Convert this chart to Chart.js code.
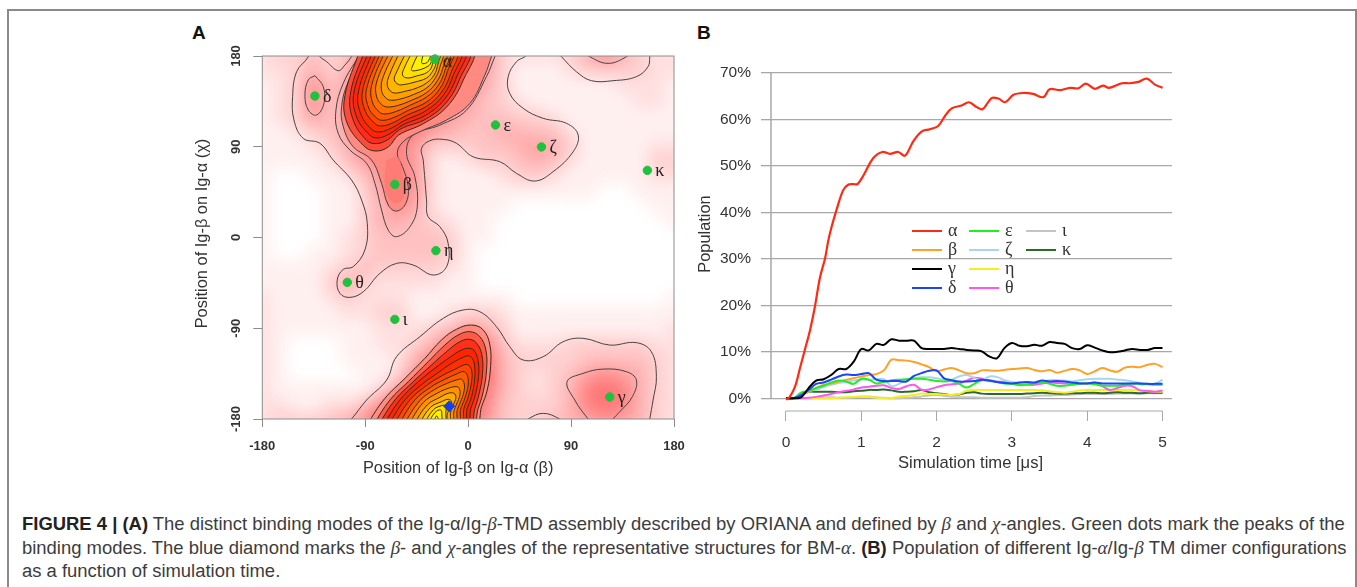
<!DOCTYPE html>
<html><head><meta charset="utf-8">
<script src="https://cdn.jsdelivr.net/npm/chart.js@4"></script>
<style>
html,body{margin:0;padding:0;background:#fff;width:1357px;height:587px;overflow:hidden;font-family:"Liberation Sans",Arial,sans-serif}
#frame{position:absolute;left:7px;top:9px;width:1346px;height:578px;border:2px solid #8a8a8a;border-bottom:none;box-sizing:content-box}
canvas{position:absolute;display:block;filter:blur(.35px)}
#chartA{left:180px;top:40px}
#chartB{left:690px;top:40px}
.panel{position:absolute;font-weight:bold;font-size:19px;color:#111;line-height:20px}
.cap{position:absolute;left:22px;white-space:nowrap;font-size:18.45px;line-height:20px;color:#3c3c3c}
.cap b{color:#222}
.cap i{font-family:"Liberation Serif",serif;font-size:19px}
</style></head><body>
<div id="frame"></div>
<div class="panel" style="left:192px;top:23px">A</div>
<div class="panel" style="left:697px;top:23px">B</div>
<canvas id="chartA" width="510" height="440"></canvas>
<canvas id="chartB" width="500" height="440"></canvas>
<div class="cap" style="top:514px"><b>FIGURE 4 | (A)</b> The distinct binding modes of the Ig-α/Ig-<i>β</i>-TMD assembly described by ORIANA and defined by <i>β</i> and <i>χ</i>-angles. Green dots mark the peaks of the</div>
<div class="cap" style="top:538px">binding modes. The blue diamond marks the <i>β</i>- and <i>χ</i>-angles of the representative structures for BM-<i>α</i>. <b>(B)</b> Population of different Ig-<i>α</i>/Ig-<i>β</i> TM dimer configurations</div>
<div class="cap" style="top:561px">as a function of simulation time.</div>
<script>
/* ---------- Panel A data: angles in degrees ---------- */
const angleTicks = [-180,-90,0,90,180];
const modeNames = ['α','β','γ','δ','ε','ζ','η','θ','ι','κ'];
const modeBeta  = [-29.1,-64.1,123.8,-134,23.9,64.1,-28.2,-105.7,-64.1,156.7];
const modeChi   = [177,52.7,-158.2,140.3,111.6,89.8,-13,-44.5,-81.2,66.6];
const diamondBeta = [-16.6];
const diamondChi  = [-167.4];

/* density: rows chi = 180..-180, columns beta = -180..180, 15 degree steps */
const densityRows = [
[2,3,3,4,3,4,8,10,10,10,10,10,10,7,3,2,2,2,3,5,7,5,3,2,2],
[2,2,3,5,3,5,9,10,10,10,10,10,10,6,3,1,1,1,2,3,3,3,3,2,2],
[1,2,3,7,4,6,10,10,10,10,10,10,8,5,3,1,1,1,1,1,1,2,2,2,1],
[1,2,3,7,4,6,10,10,10,10,10,9,6,4,3,2,1,1,1,1,1,1,2,2,1],
[1,2,3,6,4,6,10,10,10,10,8,6,5,4,4,3,3,2,1,1,1,1,1,1,1],
[1,1,2,3,4,6,10,10,10,8,6,5,4,4,5,5,4,4,2,1,1,1,1,1,1],
[1,1,1,2,3,5,8,9,8,6,3,3,3,4,4,5,6,5,3,1,1,1,1,2,2],
[1,1,1,1,2,4,6,8,8,6,2,1,2,3,3,4,5,4,2,1,1,1,1,3,3],
[1,0,0,1,1,2,4,7,9,6,2,1,1,1,2,3,3,2,1,1,1,1,1,2,2],
[1,0,0,0,1,1,3,6,8,6,2,1,1,1,1,1,1,1,1,1,0,0,1,1,1],
[1,0,0,0,1,1,3,5,7,5,2,1,1,1,1,0,0,0,0,0,0,0,0,1,1],
[1,0,0,0,1,1,3,5,5,4,3,2,1,1,0,0,0,0,0,0,0,0,0,0,1],
[1,0,0,0,1,2,3,4,4,4,4,3,1,1,0,0,0,0,0,0,0,0,0,0,0],
[1,0,0,1,1,2,3,4,4,4,4,3,1,0,0,0,0,0,0,0,0,0,0,0,0],
[1,1,1,1,2,3,4,3,3,3,3,2,1,0,0,0,0,0,0,0,0,0,0,0,0],
[1,1,1,1,3,5,3,2,2,2,2,1,1,0,0,0,0,0,0,0,0,0,0,0,0],
[2,1,1,1,2,3,2,2,2,1,1,1,1,1,1,0,0,0,0,0,0,0,0,0,1],
[2,1,1,1,1,2,2,3,3,1,1,2,3,3,2,1,1,1,1,1,1,1,1,1,1],
[2,1,1,1,1,1,1,2,2,2,3,4,6,5,3,1,1,1,1,1,1,1,1,1,2],
[2,1,0,0,0,1,1,2,2,3,5,8,10,8,4,2,2,2,3,3,3,3,3,2,2],
[2,1,0,0,0,1,1,1,2,5,8,10,10,9,5,3,3,3,3,4,4,4,4,3,2],
[2,1,0,0,0,0,1,1,3,7,10,10,10,10,5,3,2,3,4,6,7,6,5,3,2],
[2,1,1,1,1,1,1,3,6,10,10,10,10,9,5,3,2,3,5,8,9,8,5,3,2],
[2,2,1,1,2,2,4,7,10,10,10,10,10,8,4,3,3,3,5,8,9,8,5,3,2],
[2,3,3,3,4,5,7,10,10,10,10,10,10,7,4,3,3,4,5,6,7,6,5,3,2]
];

/* contour lines as [beta, chi] pairs */
const contourMainOuter = [[-139.8,186],[-139.8,179.3],[-150,164.4],[-153.5,139.6],[-152.3,116.5],[-144.2,98.3],[-129.6,93.4],[-118,76.8],[-102,57],[-93.2,37.2],[-88.2,14],[-90.3,-12.4],[-100.5,-29],[-109.2,-31.6],[-114.5,-42.2],[-112.1,-55.4],[-103.4,-59.4],[-91.7,-53.8],[-77.2,-35.6],[-62.6,-25.7],[-48.1,-27.3],[-30.6,-37.2],[-18.9,-29],[-17.5,-5.8],[-24.7,10.7],[-35,20.6],[-36.4,37.2],[-39.3,76.8],[-40.8,88.4],[-33.5,96],[-21.8,97.3],[-10.2,93.4],[4.4,80],[27.7,75.2],[42.3,63.6],[58.3,56],[74.3,65.3],[91.8,85.1],[96.2,101.6],[86,113.2],[65.6,118.2],[48.1,128.1],[36.4,142.9],[35,159.5],[42.3,174.4],[49.6,179.3],[56,186]];
const contourHump = [[-134,186],[-129.6,179.3],[-123.8,174.4],[-113.6,165.4],[-107.8,171],[-102,179.3],[-99,186]];
const contourTopRight = [[76,186],[81.6,179.3],[94.7,164.4],[107.8,155.5],[126.7,155.5],[147.1,159.5],[157.3,169.4],[158.8,179.3],[159,186]];
const contourTopArc = [[100,186],[106.4,179.3],[122.4,172.7],[138.4,179.3],[144,186]];
const contourDelta = [[-134,160.5],[-126.7,149.6],[-126.1,133],[-132.5,121.5],[-139.8,126.4],[-142.7,141.3],[-139.8,156.2],[-134,160.5]];
const contourMain2 = [[-93,186],[-96.1,179.3],[-109.2,152.9],[-115.6,126.4],[-113.6,103.3],[-103.4,86.8],[-88.8,73.5],[-81.5,53.7],[-75.7,27.3],[-69.9,7.4],[-62.6,0.8],[-50.9,10.7],[-44.5,30.5],[-46.6,60.3],[-53.9,83.4],[-48.1,101.6],[-24.7,111.5],[-1.4,126.4],[16,159.5],[23.3,179.3],[26,186]];
const contourMain3 = [[-89,186],[-92.3,179.3],[-104.8,154.5],[-110.7,129.7],[-109.2,109.9],[-100.5,90],[-84.5,76.8],[-75.7,53.7],[-69.9,32.2],[-62.6,26.2],[-54.5,33.8],[-52.4,50.4],[-57.4,70.2],[-62,83.4],[-56.8,95],[-42.2,104.9],[-18.9,116.5],[1.5,133],[14.6,161.1],[20.4,179.3],[23,186],[-89,186]];
const betaCore = [[-72,76],[-73,52],[-69,38],[-62,34],[-56,42],[-57,60],[-62,80],[-72,76]];
const contourLowOuter = [[-108,-186],[-102,-180],[-88.8,-161.2],[-71.3,-141.4],[-62.6,-118.2],[-42.2,-98.4],[-21.8,-80.2],[-4.4,-71.9],[10.2,-73.6],[24.8,-88.5],[36.4,-108.3],[48.1,-121.5],[65.6,-118.2],[83,-103.4],[100.5,-100],[123.8,-106.7],[147.1,-104.3],[160.2,-113.3],[164.6,-138],[161.7,-161.2],[158.8,-180],[158,-186]];
const contourLowArc = [[47,-186],[52.5,-180],[65.6,-174.4],[80.1,-180],[86,-186]];
const contourGamma = [[110,-186],[104.9,-180],[93.2,-161.2],[86.5,-143],[100.5,-134.8],[118,-130.5],[138.4,-133.1],[147.1,-141.4],[143.6,-157.9],[132.6,-172.8],[126.7,-180],[124,-186]];

const topRings = [
[[-94.6,186],[-107.7,141],[-106.2,114.6],[-91.7,91.4],[-81.5,85.8],[-69.8,89.8],[-61,101.4],[-39.2,112.9],[-18.8,129.4],[-4.3,156],[3,186]],
[[-90.2,186],[-102.7,144.3],[-101,117.9],[-88.8,96.4],[-80,93.1],[-69.8,97.4],[-59.6,107.3],[-36.3,117.9],[-18.8,134.4],[-7.2,157.6],[0.1,186]],
[[-86.4,186],[-99.8,144.3],[-97.5,119.5],[-85.8,101.4],[-78.6,98.7],[-68.4,103],[-56.7,111.9],[-36.3,121.8],[-20.3,137.7],[-10.1,159.2],[-3.7,186]],
[[-82.9,186],[-96,144.3],[-94,122.8],[-84.4,107.3],[-77.1,104.7],[-67,108.6],[-55.3,116.2],[-36.3,126.1],[-21.8,141],[-13,160.9],[-7.2,186]],
[[-79.1,186],[-92.3,146],[-90.2,126.1],[-81.5,112.9],[-75.6,110.6],[-65.5,113.9],[-53.8,121.2],[-36.3,130.1],[-23.2,144.3],[-15.3,162.5],[-10.7,186]],
[[-75.6,186],[-88.8,147.6],[-87.3,129.4],[-80,118.5],[-74.2,116.2],[-64,119.5],[-52.3,126.1],[-36.3,134.4],[-24.7,147.6],[-18.3,164.2],[-13.9,186]],
[[-72.2,186],[-84.4,150.9],[-83.8,134.4],[-77.7,124.5],[-72.7,122.5],[-62.5,125.2],[-50.9,131.1],[-36.3,139.4],[-26.1,150.9],[-20.3,165.8],[-16.8,186]],
[[-67.8,186],[-80,154.2],[-80,139.4],[-74.8,131.1],[-69.8,129.4],[-61.1,131.1],[-49.4,136.1],[-36.3,143.7],[-27.6,154.2],[-22.3,167.5],[-19.7,186]],
[[-63.4,186],[-74.8,157.6],[-75.6,145],[-71.3,137.7],[-66.9,136.1],[-58.2,137.7],[-48,141.7],[-36.3,148.3],[-29,157.6],[-24.7,169.1],[-22.6,186]],
[[-59,186],[-68.9,160.9],[-70.7,150.9],[-66.9,144.3],[-62.5,143.3],[-55.3,145],[-46.5,147.6],[-36.3,153.3],[-29.9,160.9],[-26.7,170.8],[-25.2,186]],
[[-53.2,186],[-62.5,164.2],[-64.6,156.6],[-61.1,151.9],[-56.7,151.6],[-46.5,154.2],[-36.3,158.2],[-31.1,164.8],[-28.2,172.4],[-27.6,186]],
[[-48,186],[-56.1,167.5],[-57.3,160.9],[-53.2,158.2],[-45.1,160.2],[-36.3,163.5],[-32,169.1],[-29.9,186]],
[[-42.1,186],[-48.6,170.1],[-49.4,165.8],[-44.5,165.8],[-36.3,169.1],[-32.5,173.4],[-31.7,186]],
[[-37.8,186],[-40.7,174.7],[-39.8,172.4],[-34.9,174.7],[-32.5,186]]
];
const topRingColors = ['#ff4a3a','#ff2c1c','#ff2408','#ff3000','#ff4400','#ff5a00','#ff7000','#ff8800','#ffa000','#ffb400','#ffcc00','#ffdf00','#fff000','#ffff00'];

const lowRings = [
[[-88.8,-186],[-72.8,-159.5],[-55.3,-139.7],[-37.8,-119.8],[-23.3,-101.6],[-10.2,-91],[3,-86.8],[13.2,-91.7],[19,-106.6],[19.6,-128.1],[16.7,-151.2],[11.7,-167.8],[5.9,-186]],
[[-83,-186],[-68.4,-161.1],[-52.4,-143],[-34.9,-123.1],[-20.3,-106.6],[-8.7,-96.7],[1.5,-93.4],[10.2,-98.3],[15.5,-111.6],[16.1,-131.4],[13.2,-152.9],[8.8,-169.4],[3,-186]],
[[-78.6,-186],[-64,-161.1],[-48,-143],[-32,-126.4],[-18.9,-113.2],[-7.2,-103.3],[1.5,-101],[7.9,-105.6],[12,-116.5],[12.6,-134.7],[9.7,-154.5],[5.9,-169.4],[0.6,-186]],
[[-74.2,-186],[-59.7,-161.1],[-43.6,-143],[-29.1,-129.7],[-16,-118.8],[-5.8,-111.6],[1.5,-109.9],[5.9,-113.2],[8.8,-123.1],[9.1,-138],[6.2,-156.2],[2.4,-169.4],[-2,-186]],
[[-69.9,-186],[-55.3,-161.1],[-39.3,-144.6],[-26.2,-134],[-14.5,-124.8],[-4.3,-118.8],[0.9,-117.5],[4.4,-121.5],[5.9,-129.7],[5.6,-141.3],[3,-157.8],[-0.8,-169.4],[-4.3,-186]],
[[-65.5,-186],[-50.9,-161.1],[-35.8,-146.3],[-23.3,-137.3],[-11.6,-130.7],[-3.7,-126.4],[0,-126.4],[3,-131.4],[3,-143],[0,-158.5],[-3.7,-169.4],[-6.6,-186]],
[[-61.1,-186],[-46.6,-161.1],[-32,-147.9],[-20.3,-140.6],[-10.1,-135.4],[-4.3,-133],[-0.8,-136.4],[0,-146.3],[-2.9,-159.5],[-6.6,-170.4],[-9,-186]],
[[-56.8,-186],[-42.2,-161.8],[-29.1,-150.6],[-18.3,-144.6],[-10.1,-141.3],[-5.8,-140.6],[-3.4,-145.3],[-3.7,-152.9],[-6.6,-162.8],[-9.6,-171.7],[-11.6,-186]],
[[-52.4,-186],[-39.3,-163.8],[-26.2,-153.9],[-17.4,-149.6],[-10.7,-147.9],[-7.8,-149.6],[-7.2,-156.2],[-10.1,-165.1],[-12.5,-172.7],[-14.2,-186]],
[[-48,-186],[-35.8,-166.1],[-24.7,-158.5],[-17.4,-154.5],[-12.5,-154.5],[-10.7,-158.5],[-13,-166.1],[-15.4,-173.7],[-16.5,-186]],
[[-43.6,-186],[-32.9,-168.4],[-23.3,-162.8],[-17.4,-160.5],[-14.5,-162.8],[-16,-169.4],[-18.3,-175],[-19.5,-186]],
[[-39.3,-186],[-30.5,-171],[-23.3,-166.8],[-19.5,-167.1],[-19.5,-172.7],[-21.2,-186]],
[[-35.8,-186],[-29.1,-173.7],[-24.1,-171],[-23,-176],[-23.9,-186]],
[[-30.5,-186],[-27.6,-177],[-25.3,-186]]
];
const lowRingColors = ['#ff8c80','#ff5a48','#ff3018','#ff2400','#ff3000','#ff4600','#ff5c00','#ff7800','#ff9200','#ffac00','#ffc800','#ffe000','#fff000','#ffff00'];

/* ---------- Panel B data: population (%) over simulation time (microseconds) ---------- */
const popTicks = [0,10,20,30,40,50,60,70];
const timeTicks = [0,1,2,3,4,5];
const alphaTime = [0,.05,.12,.186,.25,.32,.385,.45,.52,.56,.606,.67,.76,.83,.89,.95,1.03,1.16,1.28,1.38,1.49,1.58,1.69,1.8,1.91,2.02,2.11,2.2,2.33,2.43,2.53,2.61,2.73,2.82,2.91,3.02,3.15,3.28,3.42,3.5,3.64,3.77,3.88,3.98,4.1,4.21,4.29,4.46,4.56,4.68,4.79,4.9,5];
const alphaPop  = [-.3,.3,2.5,6.5,10.4,14.7,19.8,25.9,30.2,33.8,36.9,40.5,44.8,46,46.1,46.1,48,51.7,53,52.6,53,52.2,55.3,57.4,57.9,58.6,60.7,62.4,63,63.7,62.7,62.2,64.6,64.5,63.7,65.3,65.7,65.5,64.8,66.5,66.3,66.8,66.7,67.7,66.6,67.3,66.8,67.8,67.8,68.1,68.8,67.5,66.8];
const sharedTime = [0,.1,.2,.3,.4,.5,.6,.7,.8,.9,1,1.1,1.2,1.3,1.4,1.5,1.6,1.7,1.8,1.9,2,2.1,2.2,2.3,2.4,2.5,2.6,2.7,2.8,2.9,3,3.1,3.2,3.3,3.4,3.5,3.6,3.7,3.8,3.9,4,4.1,4.2,4.3,4.4,4.5,4.6,4.7,4.8,4.9,5];
const betaPop   = [0,0,.5,1.4,2.2,2.9,3.2,3.6,4,4.3,4.7,5,5.2,6,8.3,8.2,8.1,7.8,7.3,6.7,5.8,6.2,6.5,6,5.4,5.4,6,6,5.9,6.1,6.3,6.4,6.5,6.1,5.8,6.1,5.5,5.9,6.3,6,5.2,5.8,6.5,6,5.7,6.6,6.8,6.7,7.2,7.4,6.7];
const gammaPop  = [0,0,.2,2.2,3.8,4.1,5,6.3,6.3,7.9,10.6,10.3,11.7,11.5,12.7,12.4,12.4,12.4,10.8,10.6,10.6,10.6,10.8,10.6,10.4,10.3,10.1,9,8.6,10.8,11.9,11.3,11.2,11.5,11.3,12.1,11.9,11.7,10.8,10.6,11.4,10.9,10.3,9.9,10,10.3,10.6,10.4,10.4,10.8,10.8];
const deltaPop  = [0,0,.7,1.8,3.1,3.4,4,4.7,5.1,5,5.2,5.4,4,3.7,3.7,3.7,3.6,4.8,5.4,5.9,6,4.3,3.9,3.6,3.6,3.7,4,3.8,3.5,3.3,3.2,3.4,3.5,3.4,3.8,3.6,3.7,3.6,3.4,3.2,3.2,3.4,3.2,3.2,3.2,3.2,3.2,3.2,3.1,3.1,3.1];
const epsilonPop= [0,0,1.2,1.6,2.2,2.7,3.4,3.8,3.6,3.1,4.2,4,3.2,3.5,3.9,4,4.1,4.2,4.2,4,3.7,3.6,3.7,3.1,2.3,3.1,3.9,3.7,3.5,3.2,3.1,2.8,3,3.2,3.4,3.1,2.7,2.7,2.9,3.2,3.2,3,2.7,2.7,2.7,3,3.2,3,3,2.9,2.9];
const zetaPop   = [0,0,.9,1.5,1.9,2.4,2.9,3.3,3.5,3.8,4,4,4.1,4.1,2.6,3.1,4.1,4.3,4.5,4.5,4.3,4,4,4.7,5,4.4,3.9,4.7,4.6,3.9,3.5,3.4,3.4,3.3,3.5,3.9,3.9,3.8,3.6,3.9,4.1,4.2,4.2,4.2,4,3.9,3.6,3.3,3.1,3.1,4];
const etaPop    = [0,0,0,0,0,0,0,.1,.2,.3,.4,.3,.1,0,0,.4,.5,.7,1,.9,.9,.8,.7,.9,1.6,1.8,1.8,1.8,1.8,1.8,1.8,1.8,1.8,1.8,1.7,1.5,1.3,1.2,1.4,1.7,1.8,1.8,1.8,1.8,1.8,1.8,1.8,1.7,1.5,1.4,1.4];
const thetaPop  = [0,0,0,.1,.3,.6,.9,1.3,1.6,1.9,2.3,2.5,2.7,2.8,2.2,2,2.6,2.9,1.8,1.9,2.4,2.8,3,3.2,3.8,4.4,4.2,3.9,3.6,3.5,3.3,3,2.9,2.9,3.2,3.4,3.3,3.2,3.1,3.2,3.2,3.4,2.6,1.8,2.2,2.7,2.6,1.7,1.6,1.4,1.7];
const iotaPop   = [0,0,0,0,.1,.2,.2,.1,.1,.2,.3,.4,.2,.1,0,0,.1,.2,.4,.6,.7,.5,.3,.2,.2,.2,.1,.1,.1,.1,.1,.1,.2,.5,.6,.6,.7,.7,.8,.9,.9,.9,.9,.9,1,1,1,1,1.1,1.1,1.1];
const kappaPop  = [0,0,.9,1.4,1.4,1.4,1.4,1.3,1.3,1.5,1.6,1.8,1.8,1.9,1.7,1.4,1.4,1.5,1.8,1.3,1.1,.9,.7,.8,1.2,1.3,1,.9,.9,.9,.9,.9,1,1.1,1.2,1.1,1,1,1.1,1.1,1.2,1.2,1.1,1.2,1.3,1.2,1.2,1.1,1.2,1.2,1.2];
const seriesNames = ['α','β','γ','δ','ε','ζ','η','θ','ι','κ'];
const seriesColors = ['#ff2a12','#ffa126','#000000','#1a44ff','#22ee22','#a8d6ea','#f4ee20','#ff55f5','#c4c4c4','#2a6a2a'];

/* ---------- helpers ---------- */
const GRID='#a8a8a8', AXIS='#8c8c8c', INK='#333333';
const sansFont=(s,w)=>({family:'"Liberation Sans", Arial, sans-serif',size:s,weight:w||'normal'});
const pairs=a=>a.map(p=>({x:p[0],y:p[1]}));
const zip=(xs,ys)=>xs.map((x,i)=>({x,y:ys[i]}));
function nudgeTitle(scale,dx,dy){
  if(scale._nudged)return; scale._nudged=true;
  const orig=scale.drawTitle;
  scale.drawTitle=function(){const c=this.ctx;c.save();c.translate(dx,dy);orig.call(this);c.restore();};
}
function contourSet(points,extra){
  return Object.assign({data:pairs(points),showLine:true,tension:.4,capBezierPoints:false,borderColor:'#444',borderWidth:1,pointRadius:0,clip:0,fill:false},extra||{});
}
/* keep the plot box exactly where the layout padding puts it */
function noOverhang(s){s.paddingLeft=0;s.paddingRight=0;s.paddingTop=0;s.paddingBottom=0;}

/* ---------- panel A plugin: density map drawn through the scales ---------- */
const densityPlugin={id:'density',beforeDatasetsDraw(chart){
  const {ctx,chartArea:a,scales:{x,y}}=chart;
  const n=densityRows.length,m=densityRows[0].length;
  const off=document.createElement('canvas');off.width=m;off.height=n;
  const o=off.getContext('2d');const img=o.createImageData(m,n);
  densityRows.forEach((r,i)=>r.forEach((v,j)=>{const k=(i*m+j)*4;const g=255-15.5*v;img.data[k]=255;img.data[k+1]=g;img.data[k+2]=g;img.data[k+3]=255;}));
  o.putImageData(img,0,0);
  const xl=x.getPixelForValue(-187.5),xr=x.getPixelForValue(187.5),yt=y.getPixelForValue(187.5),yb=y.getPixelForValue(-187.5);
  ctx.save();ctx.beginPath();ctx.rect(a.left,a.top,a.width,a.height);ctx.clip();
  ctx.imageSmoothingEnabled=true;ctx.imageSmoothingQuality='high';ctx.filter='blur(6px)';
  ctx.drawImage(off,xl,yt,xr-xl,yb-yt);ctx.restore();
},afterDatasetsDraw(chart){
  const {ctx,chartArea:a,scales:{x,y}}=chart;
  ctx.save();ctx.strokeStyle=AXIS;ctx.lineWidth=1;ctx.strokeRect(a.left,a.top,a.width,a.height);
  ctx.fillStyle='#222';ctx.font='18px "Liberation Serif", serif';ctx.textAlign='left';ctx.textBaseline='middle';
  modeNames.forEach((t,i)=>ctx.fillText(t,x.getPixelForValue(modeBeta[i])+8,y.getPixelForValue(modeChi[i])+(i===0?3:1)));
  ctx.restore();
}};

const dsA=[];
dsA.push(contourSet(contourMainOuter),contourSet(contourHump),contourSet(contourTopRight),contourSet(contourTopArc),contourSet(contourDelta),
  contourSet(contourLowOuter),contourSet(contourLowArc),contourSet(contourGamma),contourSet(contourMain2));
dsA.push(contourSet(contourMain3,{fill:'shape',backgroundColor:'#ff8a82'}));
dsA.push(contourSet(betaCore,{fill:'shape',backgroundColor:'#ff7c74',borderColor:'rgba(0,0,0,0)',borderWidth:0}));
topRings.forEach((r,i)=>dsA.push(contourSet(r.concat([r[0]]),{fill:'shape',backgroundColor:topRingColors[i],borderColor:'#3a2a1a'})));
lowRings.forEach((r,i)=>dsA.push(contourSet(r.concat([r[0]]),{fill:'shape',backgroundColor:lowRingColors[i],borderColor:'#3a2a1a'})));
dsA.push({data:zip(modeBeta,modeChi),backgroundColor:'#1fc23d',borderColor:'#1fc23d',pointRadius:4.2,pointHoverRadius:4.2,showLine:false,clip:false});
dsA.push({data:zip(diamondBeta,diamondChi),backgroundColor:'#1a3fe6',borderColor:'#1a3fe6',pointStyle:'rectRot',pointRadius:5.5,showLine:false,clip:false});

new Chart(document.getElementById('chartA'),{type:'scatter',plugins:[densityPlugin],
  data:{datasets:dsA.reverse()},
  options:{responsive:false,animation:false,devicePixelRatio:1,layout:{padding:{top:16,right:16,left:0,bottom:0}},
    plugins:{legend:{display:false},tooltip:{enabled:false}},
    scales:{
      x:{type:'linear',min:-180,max:180,afterBuildTicks(s){s.ticks=angleTicks.map(v=>({value:v}));},
        afterFit(s){s.height=61;noOverhang(s);nudgeTitle(s,-10,0);},
        border:{display:false},grid:{drawOnChartArea:false,drawTicks:true,tickLength:8,color:AXIS},
        ticks:{font:sansFont(13,'bold'),color:INK,padding:12,maxRotation:0,autoSkip:false,callback:v=>String(v)},
        title:{display:true,text:'Position of Ig-β on Ig-α (β)',font:sansFont(16.4),color:INK,padding:{top:0,bottom:2}}},
      y:{type:'linear',min:-180,max:180,afterBuildTicks(s){s.ticks=angleTicks.map(v=>({value:v}));},
        afterFit(s){s.width=82.3;noOverhang(s);nudgeTitle(s,13,-4);},
        border:{display:false},grid:{drawOnChartArea:false,drawTicks:true,tickLength:9,color:AXIS},
        ticks:{font:sansFont(13,'bold'),color:INK,padding:4,minRotation:90,maxRotation:90,crossAlign:'center',autoSkip:false,callback:v=>String(v)},
        title:{display:true,text:'Position of Ig-β on Ig-α (χ)',font:sansFont(16.4),color:INK,padding:{top:0,bottom:0}}}
    }}});

/* ---------- panel B ---------- */
const legendBox={x:222,y:191,rowStep:19,colStep:57,lineLen:30,gap:6};
const axisPlugin={id:'axisLines',beforeDatasetsDraw(chart){
  const {ctx,chartArea:a,scales:{x,y}}=chart;
  ctx.save();ctx.strokeStyle=GRID;ctx.lineWidth=1.5;ctx.beginPath();
  ctx.moveTo(a.left,y.getPixelForValue(0));ctx.lineTo(a.left,y.getPixelForValue(70));ctx.stroke();
  ctx.lineWidth=1;ctx.beginPath();ctx.moveTo(x.getPixelForValue(0),a.bottom);ctx.lineTo(x.getPixelForValue(5),a.bottom);ctx.stroke();
  ctx.restore();
},afterDatasetsDraw(chart){
  const {ctx}=chart,L=legendBox;
  ctx.save();ctx.font='18px "Liberation Serif", serif';ctx.textBaseline='middle';ctx.textAlign='left';ctx.lineWidth=2;
  const counts=[4,4,2];let k=0;
  counts.forEach((c,col)=>{for(let r=0;r<c;r++,k++){
    const lx=L.x+col*L.colStep,ly=L.y+r*L.rowStep;
    ctx.strokeStyle=seriesColors[k];ctx.beginPath();ctx.moveTo(lx,ly);ctx.lineTo(lx+L.lineLen,ly);ctx.stroke();
    ctx.fillStyle='#333';ctx.fillText(seriesNames[k],lx+L.lineLen+L.gap,ly);
  }});
  ctx.restore();
}};
const allPops=[alphaPop,betaPop,gammaPop,deltaPop,epsilonPop,zetaPop,etaPop,thetaPop,iotaPop,kappaPop];
const dsB=allPops.map((p,i)=>({label:seriesNames[i],data:zip(i===0?alphaTime:sharedTime,p),showLine:true,tension:.35,
  borderColor:seriesColors[i],backgroundColor:seriesColors[i],borderWidth:i===0?2.2:2,pointRadius:0,fill:false,clip:false}));
// paint order: quiet lines first, then ε/δ, then γ and α on top
const paintOrder=[8,9,6,7,5,1,4,3,2,0];
new Chart(document.getElementById('chartB'),{type:'scatter',plugins:[axisPlugin],
  data:{datasets:paintOrder.map(i=>dsB[i]).reverse()},
  options:{responsive:false,animation:false,devicePixelRatio:1,layout:{padding:{top:33,right:18,left:0,bottom:0}},
    plugins:{legend:{display:false},tooltip:{enabled:false}},
    scales:{
      x:{type:'linear',min:-.199,max:5.126,afterBuildTicks(s){s.ticks=timeTicks.map(v=>({value:v}));},
        afterFit(s){s.height=69;noOverhang(s);nudgeTitle(s,-1,-1);},
        border:{display:false},grid:{drawOnChartArea:false,drawTicks:true,tickLength:10,color:GRID},
        ticks:{font:sansFont(15.5),color:INK,padding:12,maxRotation:0,autoSkip:false,callback:v=>String(v)},
        title:{display:true,text:'Simulation time [μs]',font:sansFont(16.6),color:INK,padding:{top:0,bottom:6}}},
      y:{type:'linear',min:-2.74,max:70,afterBuildTicks(s){s.ticks=popTicks.map(v=>({value:v}));},
        afterFit(s){s.width=81;noOverhang(s);nudgeTitle(s,6,-8);},
        border:{display:false},grid:{drawTicks:true,tickLength:10,color:GRID,lineWidth:1.3},
        ticks:{font:sansFont(15.5),color:INK,padding:10,autoSkip:false,callback:v=>v+'%'},
        title:{display:true,text:'Population',font:sansFont(16.4),color:INK,padding:{top:0,bottom:0}}}
    }}});
</script>
</body></html>
